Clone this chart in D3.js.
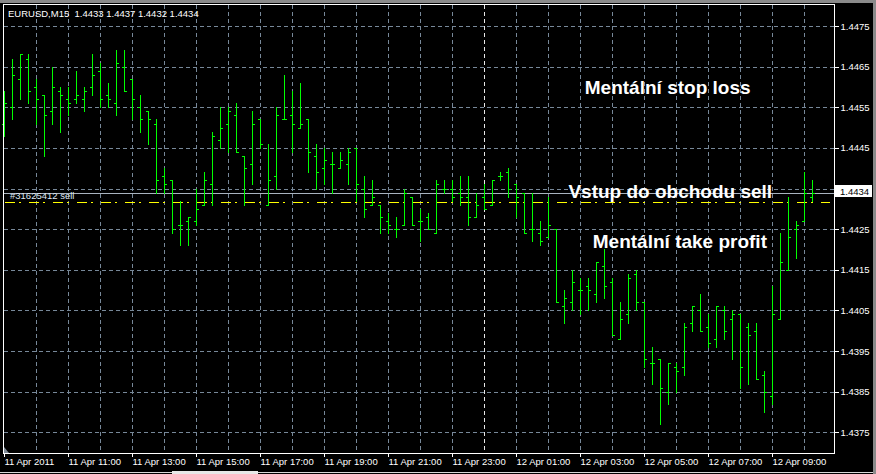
<!DOCTYPE html>
<html><head><meta charset="utf-8">
<script src="https://cdn.jsdelivr.net/npm/d3@7/dist/d3.min.js"></script>
<style>
html,body{margin:0;padding:0;background:#000;}
svg{display:block;}
text{font-family:"Liberation Sans",Arial,sans-serif;}
</style></head>
<body>
<svg id="c" width="876" height="474"></svg>
<script>
// ---- data ----
const opens  = [1.4451,1.4455,1.4462,1.4467,1.4460,1.4458,1.4454,1.4459,1.4457,1.4457,1.4457,1.4460,1.4464,1.4458,1.4456,1.4465,1.4462,1.4455,1.4454,1.4451,
                1.4438,1.4437,1.4426,1.4427,1.4427,1.4431,1.4436,1.4447,1.4451,1.4453,1.4443,1.4441,1.4452,1.4431,1.4438,1.4452,1.4453,1.4450,1.4452,1.4443,
                1.4440,1.4441,1.4440,1.4441,1.4445,1.4435,1.4431,1.4431,1.4427,1.4425,1.4426,1.4433,1.4427,1.4428,1.4424,1.4435,1.4435,1.4434,1.4433,1.4428,
                1.4433,1.4431,1.4438,1.4439,1.4436,1.4434,1.4425,1.4424,1.4423,1.4425,1.4406,1.4407,1.4410,1.4411,1.4409,1.4416,1.4412,1.4398,1.4404,1.4414,
                1.4407,1.4392,1.4393,1.4385,1.4391,1.4391,1.4402,1.4405,1.4401,1.4398,1.4405,1.4403,1.4404,1.4401,1.4400,1.4389,1.4384,1.4403,1.4415,1.4425,
                1.4427,1.4433];
const highs  = [1.4459,1.4467,1.4468,1.4468,1.4462,1.4458,1.4465,1.4460,1.4460,1.4464,1.4460,1.4468,1.4466,1.4461,1.4469,1.4469,1.4462,1.4458,1.4454,1.4452,
                1.4440,1.4437,1.4432,1.4428,1.4435,1.4439,1.4449,1.4455,1.4455,1.4456,1.4443,1.4454,1.4452,1.4446,1.4455,1.4463,1.4459,1.4461,1.4452,1.4446,
                1.4445,1.4444,1.4444,1.4445,1.4445,1.4438,1.4437,1.4431,1.4429,1.4428,1.4435,1.4433,1.4430,1.4429,1.4437,1.4437,1.4437,1.4438,1.4438,1.4434,
                1.4436,1.4437,1.4439,1.4440,1.4436,1.4434,1.4434,1.4427,1.4433,1.4425,1.4410,1.4415,1.4413,1.4413,1.4417,1.4420,1.4413,1.4407,1.4414,1.4415,
                1.4407,1.4396,1.4393,1.4392,1.4392,1.4402,1.4406,1.4409,1.4404,1.4406,1.4406,1.4405,1.4404,1.4402,1.4402,1.4390,1.4411,1.4424,1.4433,1.4427,
                1.4439,1.4437];
const lows   = [1.4448,1.4452,1.4457,1.4456,1.4451,1.4443,1.4451,1.4449,1.4453,1.4456,1.4454,1.4458,1.4455,1.4455,1.4453,1.4459,1.4452,1.4449,1.4446,1.4434,
                1.4434,1.4424,1.4421,1.4421,1.4426,1.4431,1.4431,1.4445,1.4444,1.4444,1.4431,1.4436,1.4445,1.4431,1.4435,1.4452,1.4444,1.4450,1.4439,1.4435,
                1.4436,1.4434,1.4440,1.4436,1.4432,1.4428,1.4431,1.4424,1.4424,1.4423,1.4426,1.4426,1.4422,1.4425,1.4424,1.4434,1.4432,1.4431,1.4426,1.4428,
                1.4430,1.4431,1.4437,1.4433,1.4428,1.4424,1.4422,1.4421,1.4423,1.4407,1.4402,1.4405,1.4404,1.4405,1.4407,1.4408,1.4399,1.4398,1.4402,1.4405,
                1.4391,1.4387,1.4377,1.4382,1.4385,1.4389,1.4400,1.4400,1.4396,1.4396,1.4398,1.4393,1.4386,1.4387,1.4388,1.4380,1.4382,1.4403,1.4415,1.4418,
                1.4427,1.4432];
const closes = [1.4456,1.4463,1.4468,1.4459,1.4457,1.4453,1.4460,1.4458,1.4456,1.4458,1.4459,1.4463,1.4457,1.4457,1.4466,1.4459,1.4457,1.4452,1.4452,1.4437,
                1.4436,1.4425,1.4426,1.4428,1.4430,1.4437,1.4448,1.4450,1.4454,1.4444,1.4440,1.4451,1.4446,1.4437,1.4453,1.4452,1.4451,1.4451,1.4444,1.4439,
                1.4442,1.4441,1.4442,1.4444,1.4436,1.4430,1.4433,1.4428,1.4426,1.4425,1.4434,1.4426,1.4427,1.4425,1.4436,1.4435,1.4433,1.4433,1.4428,1.4431,
                1.4430,1.4437,1.4438,1.4435,1.4433,1.4424,1.4425,1.4422,1.4426,1.4407,1.4408,1.4412,1.4410,1.4410,1.4417,1.4411,1.4399,1.4403,1.4413,1.4407,
                1.4393,1.4392,1.4386,1.4392,1.4390,1.4401,1.4406,1.4400,1.4397,1.4406,1.4400,1.4404,1.4391,1.4399,1.4388,1.4385,1.4404,1.4417,1.4423,1.4426,
                1.4434,1.4434];
const timeTickIndex = [0,8,16,24,32,40,48,56,64,72,80,88,96];
const timeTickLabels = ["11 Apr 2011","11 Apr 11:00","11 Apr 13:00","11 Apr 15:00","11 Apr 17:00","11 Apr 19:00","11 Apr 21:00",
                        "11 Apr 23:00","12 Apr 01:00","12 Apr 03:00","12 Apr 05:00","12 Apr 07:00","12 Apr 09:00"];
const priceTicks = [1.4475,1.4465,1.4455,1.4445,1.4435,1.4425,1.4415,1.4405,1.4395,1.4385,1.4375];
const gridIndex = [4,8,12,16,20,24,28,32,36,40,44,48,52,56,64,68,72,76,80,84,88,92,96,100];
const daySeparatorIndex = [60];
const symbolTitle = "EURUSD,M15  1.4433 1.4437 1.4432 1.4434";
const bidPrice = 1.4434;
const orderPrice = 1.44318;
const orderLabel = "#31625412 sell";
const notes = [
  {text:"Mentální stop loss", price:1.44583, bar:72.6},
  {text:"Vstup do obchodu sell", price:1.44327, bar:70.55},
  {text:"Mentální take profit", price:1.44204, bar:73.6}
];

// ---- layout ----
const L = 3.5, T = 4.5, R = 834.5, B = 453.5;
const svg = d3.select("#c");
const x = d3.scaleLinear().domain([0, 101]).range([4, 812]);
const y = d3.scaleLinear().domain([1.4475, 1.4375]).range([26, 432.3]);
const gridCol = "#778899";

// window chrome
svg.append("rect").attr("x",0).attr("y",0).attr("width",876).attr("height",474).attr("fill","#000");
svg.append("rect").attr("x",0).attr("y",0).attr("width",876).attr("height",3).attr("fill","#8a8a8a");
svg.append("rect").attr("x",873).attr("y",0).attr("width",3).attr("height",474).attr("fill","#8a8a8a");
svg.append("line").attr("x1",0).attr("x2",873).attr("y1",472.5).attr("y2",472.5).attr("stroke","#d8d8d8");
svg.append("rect").attr("x",172).attr("y",471).attr("width",86).attr("height",3).attr("fill","#e8e8e8");

// grid
const g = svg.append("g").attr("shape-rendering","crispEdges");
g.selectAll(".hg").data(priceTicks).join("line")
  .attr("x1",L).attr("x2",R).attr("y1",d=>Math.round(y(d))+0.5).attr("y2",d=>Math.round(y(d))+0.5)
  .attr("stroke",gridCol).attr("stroke-dasharray","4,3");
g.selectAll(".vg").data(gridIndex).join("line")
  .attr("x1",d=>Math.round(x(d))+0.5).attr("x2",d=>Math.round(x(d))+0.5).attr("y1",T).attr("y2",B)
  .attr("stroke",gridCol).attr("stroke-dasharray","4,3");
g.selectAll(".ds").data(daySeparatorIndex).join("line")
  .attr("x1",d=>Math.round(x(d))+0.5).attr("x2",d=>Math.round(x(d))+0.5).attr("y1",T).attr("y2",B)
  .attr("stroke","#e8e8e8").attr("stroke-dasharray","4,3");

// bid line
g.append("line").attr("x1",L).attr("x2",R).attr("y1",Math.round(y(bidPrice))+0.5).attr("y2",Math.round(y(bidPrice))+0.5)
  .attr("stroke","#a9b3bf");
// order line
g.append("line").attr("x1",5).attr("x2",830).attr("y1",Math.round(y(orderPrice))+0.5).attr("y2",Math.round(y(orderPrice))+0.5)
  .attr("stroke","#ffff00").attr("stroke-dasharray","10,4,2,8");

// bars
const bars = svg.append("g").attr("fill","#00ff00").attr("shape-rendering","crispEdges");
const idx = d3.range(opens.length);
bars.selectAll(".hl").data(idx).join("rect")
  .attr("x",i=>Math.round(x(i))).attr("width",1)
  .attr("y",i=>Math.round(y(highs[i]))).attr("height",i=>Math.round(y(lows[i]))-Math.round(y(highs[i]))+1);
bars.selectAll(".op").data(idx).join("rect")
  .attr("x",i=>Math.round(x(i))-2).attr("width",2)
  .attr("y",i=>Math.round(y(opens[i]))).attr("height",1);
bars.selectAll(".cl").data(idx).join("rect")
  .attr("x",i=>Math.round(x(i))+1).attr("width",2)
  .attr("y",i=>Math.round(y(closes[i]))).attr("height",1);

// frame
svg.append("rect").attr("x",L).attr("y",T).attr("width",R-L).attr("height",B-T)
  .attr("fill","none").attr("stroke","#fff").attr("shape-rendering","crispEdges");
svg.append("path").attr("d","M4,447 L4,453 L9,453 Z").attr("fill","#7f8a96");

// price axis
const ya = svg.append("g").attr("transform",`translate(${R},0)`)
  .call(d3.axisRight(y).tickValues(priceTicks).tickFormat(d3.format(".4f")).tickSize(4).tickPadding(2));
ya.select(".domain").remove();
ya.selectAll("line").attr("stroke","#fff").attr("shape-rendering","crispEdges");
ya.selectAll("text").attr("fill","#fff").attr("font-size","9.5px").attr("font-family","Liberation Sans, Arial, sans-serif");

// bid price box
svg.append("rect").attr("x",835).attr("y",185).attr("width",37).attr("height",12).attr("fill","#fff");
svg.append("text").attr("x",840).attr("y",194.5).attr("font-size","9.5px").attr("fill","#000").text(d3.format(".4f")(bidPrice));

// time axis
const xa = svg.append("g").attr("transform",`translate(0,${B})`)
  .call(d3.axisBottom(x).tickValues(timeTickIndex).tickFormat((d,i)=>timeTickLabels[i]).tickSize(3).tickPadding(2));
xa.select(".domain").remove();
xa.selectAll("line").attr("stroke","#fff").attr("shape-rendering","crispEdges");
xa.selectAll("text").attr("fill","#fff").attr("font-size","9.5px").attr("text-anchor","start").attr("x",0)
  .attr("font-family","Liberation Sans, Arial, sans-serif");

// header text
svg.append("text").attr("x",8).attr("y",16.5).attr("fill","#fff").attr("font-size","9.5px")
  .style("white-space","pre").text(symbolTitle);
// order label
svg.append("text").attr("x",10).attr("y",199).attr("fill","#dfe6f2").attr("font-size","9.5px").text(orderLabel);

// annotations
svg.selectAll(".note").data(notes).join("text")
  .attr("x",d=>x(d.bar)).attr("y",d=>y(d.price))
  .attr("fill","#fff").attr("font-size","19px").attr("font-weight","bold")
  .text(d=>d.text);
</script>
</body></html>
